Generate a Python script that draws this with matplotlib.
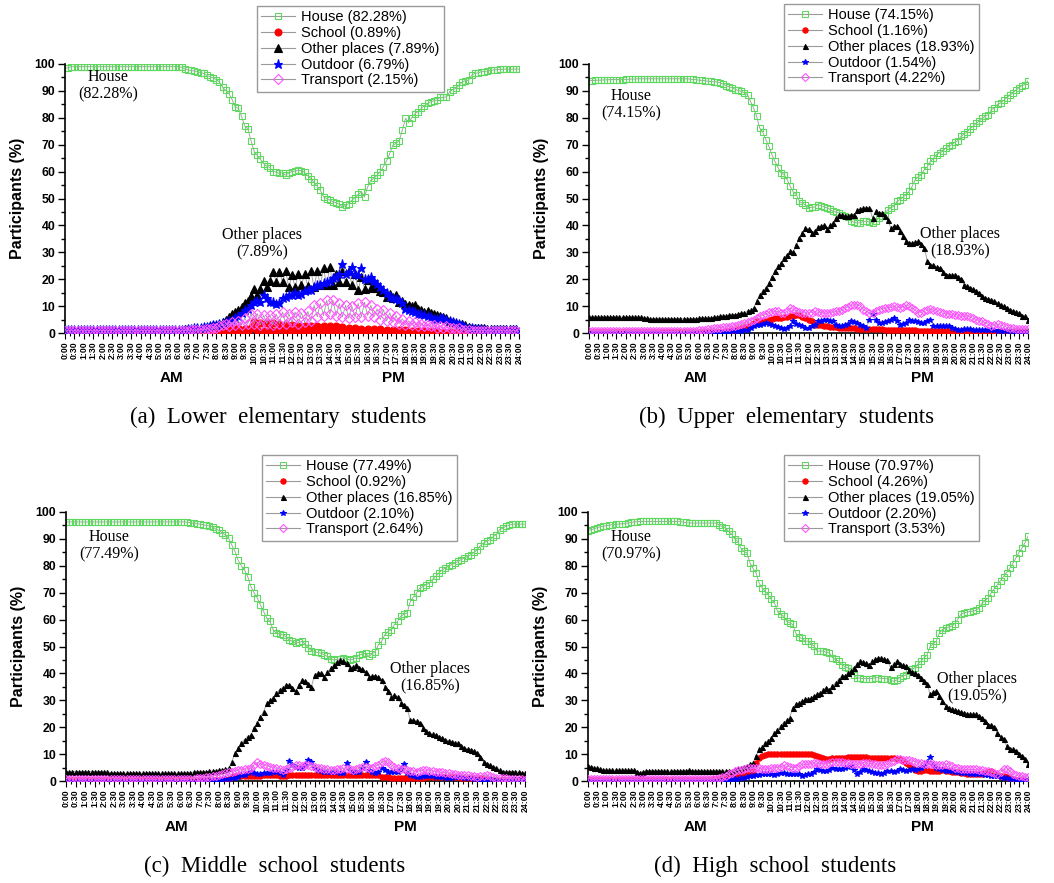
import numpy as np
import matplotlib
matplotlib.use("Agg")
import matplotlib.pyplot as plt
from matplotlib.lines import Line2D

W, H = 1054, 883
SANS = "Liberation Sans"
SERIF = "Liberation Serif"

# 10-minute samples from 0:00 to 24:00
hours = np.arange(145) / 6.0

tick_labels = [
    "0:00", "0:30", "1:00", "1:30", "2:00", "2:30", "3:00", "3:30", "4:00", "4:30",
    "5:00", "5:30", "6:00", "6:30", "7:00", "7:30", "8:00", "8:30", "9:00", "9:30",
    "10:00", "10:30", "11:00", "11:30", "12:00", "12:30", "13:00", "13:30", "14:00",
    "14:30", "15:00", "15:30", "16:00", "16:30", "17:00", "17:30", "18:00", "18:30",
    "19:00", "19:30", "20:00", "20:30", "21:00", "21:30", "22:00", "22:30", "23:00",
    "23:30", "24:00",
]

series_names = ["House", "School", "Other places", "Outdoor", "Transport"]

# (a) Lower elementary students
house_a = [
    98.4, 98.6, 99.0, 99.0, 99.0, 99.0, 99.0, 99.0, 99.0, 99.0, 99.0, 99.0,
    99.0, 99.0, 99.0, 99.0, 99.0, 99.0, 99.0, 99.0, 99.0, 99.0, 99.0, 99.0,
    99.0, 99.0, 99.0, 99.0, 99.0, 99.0, 99.0, 99.0, 99.0, 99.0, 99.0, 99.0,
    99.0, 98.8, 98.2, 97.8, 97.6, 97.4, 97.2, 96.8, 96.5, 95.8, 95.3, 94.8,
    94.2, 93.3, 91.3, 90.2, 89.0, 86.8, 84.0, 83.5, 80.5, 77.0, 76.0, 71.5,
    67.5, 66.0, 64.5, 63.0, 62.0, 61.5, 60.0, 59.8, 59.3, 59.5, 58.7, 59.5,
    60.0, 60.2, 60.5, 60.3, 59.7, 58.5, 57.4, 56.0, 54.5, 53.0, 50.6, 50.0,
    49.4, 48.8, 48.4, 47.9, 46.7, 47.5, 48.1, 49.4, 50.3, 51.5, 52.5, 50.6,
    54.3, 56.8, 57.5, 58.7, 60.0, 61.8, 64.0, 66.7, 69.8, 70.5, 71.5, 75.4,
    79.8, 78.2, 80.1, 81.5, 82.3, 83.5, 84.5, 85.4, 86.0, 86.3, 86.6, 87.6,
    87.6, 87.8, 89.7, 90.5, 90.9, 92.2, 93.4, 93.8, 94.0, 95.9, 96.5, 96.7,
    97.1, 97.2, 97.4, 97.6, 97.8, 97.9, 98.0, 98.1, 98.1, 98.1, 98.1, 98.1,
    98.1,
]
school_a = [
    0.2, 0.2, 0.2, 0.2, 0.2, 0.2, 0.2, 0.2, 0.2, 0.2, 0.2, 0.2,
    0.2, 0.2, 0.2, 0.2, 0.2, 0.2, 0.2, 0.2, 0.2, 0.2, 0.2, 0.2,
    0.2, 0.2, 0.2, 0.2, 0.2, 0.2, 0.2, 0.2, 0.2, 0.2, 0.2, 0.2,
    0.2, 0.2, 0.2, 0.2, 0.2, 0.2, 0.2, 0.2, 0.3, 0.3, 0.4, 0.4,
    0.5, 1.5, 0.5, 2.5, 0.3, 2.0, 0.3, 2.0, 0.2, 1.5, 0.2, 2.0,
    4.0, 1.0, 3.8, 0.8, 3.8, 1.0, 3.8, 0.8, 3.5, 1.0, 3.0, 0.8,
    2.8, 0.8, 2.5, 0.5, 2.5, 0.5, 2.5, 0.5, 2.6, 0.5, 2.6, 0.5,
    2.6, 0.5, 2.5, 0.5, 2.4, 0.5, 2.0, 0.5, 1.8, 0.4, 1.6, 0.4,
    1.6, 0.3, 1.5, 0.3, 1.4, 0.2, 1.2, 0.2, 1.0, 0.2, 1.0, 0.2,
    1.0, 0.1, 0.8, 0.1, 0.8, 0.1, 0.8, 0.1, 0.6, 0.1, 0.6, 0.1,
    0.5, 0.1, 0.3, 0.1, 0.2, 0.1, 0.1, 0.1, 0.1, 0.1, 0.1, 0.1,
    0.1, 0.1, 0.1, 0.1, 0.1, 0.1, 0.1, 0.1, 0.1, 0.1, 0.1, 0.1,
    0.1,
]
other_a = [
    1.2, 1.2, 1.2, 1.2, 1.2, 1.2, 1.2, 1.2, 1.2, 1.2, 1.2, 1.2,
    1.2, 1.2, 1.2, 1.2, 1.2, 1.2, 1.2, 1.2, 1.2, 1.2, 1.2, 1.2,
    1.2, 1.2, 1.2, 1.2, 1.2, 1.2, 1.2, 1.2, 1.2, 1.2, 1.2, 1.2,
    1.3, 1.3, 1.4, 1.5, 1.5, 1.6, 1.7, 1.8, 2.0, 2.3, 2.6, 2.8,
    3.0, 3.5, 4.0, 5.0, 6.0, 7.0, 7.8, 8.4, 9.5, 11.0, 12.0, 13.6,
    16.5, 14.0, 16.5, 19.4, 17.0, 19.4, 22.5, 19.0, 22.7, 19.0, 23.0, 17.0,
    21.5, 17.0, 22.0, 17.7, 22.0, 17.5, 23.0, 17.0, 23.0, 17.7, 24.0, 17.7,
    24.6, 17.7, 21.8, 19.0, 23.0, 19.0, 23.0, 18.0, 21.8, 15.9, 21.0, 16.5,
    19.6, 16.9, 17.5, 16.9, 15.5, 15.3, 13.4, 14.5, 13.0, 14.0, 11.5, 12.0,
    10.7, 10.5, 9.9, 10.3, 9.0, 8.4, 7.8, 8.0, 7.5, 7.2, 6.8, 6.5,
    6.0, 5.5, 4.5, 4.0, 3.8, 3.5, 3.2, 2.8, 2.4, 2.0, 1.9, 1.8,
    1.7, 1.7, 1.6, 1.6, 1.6, 1.6, 1.5, 1.5, 1.5, 1.5, 1.5, 1.5,
    0.5,
]
outdoor_a = [
    1.0, 1.0, 1.0, 1.0, 1.0, 1.0, 1.0, 1.0, 1.0, 1.0, 1.0, 1.0,
    1.0, 1.0, 1.0, 1.0, 1.0, 1.0, 1.0, 1.0, 1.0, 1.0, 1.0, 1.0,
    1.0, 1.0, 1.0, 1.0, 1.0, 1.0, 1.0, 1.0, 1.0, 1.0, 1.0, 1.0,
    1.0, 1.1, 1.2, 1.4, 1.5, 1.7, 1.9, 2.0, 2.2, 2.4, 2.6, 2.8,
    3.0, 3.3, 3.6, 4.0, 4.5, 5.0, 5.5, 6.5, 7.5, 8.5, 9.0, 10.5,
    11.5, 12.0, 11.5, 14.0, 13.0, 11.5, 11.5, 10.7, 11.0, 13.0, 13.4, 14.0,
    14.3, 15.0, 14.0, 14.6, 15.5, 16.0, 15.9, 17.0, 17.7, 18.0, 18.5, 19.0,
    19.5, 20.6, 21.0, 22.0, 25.8, 22.0, 22.5, 24.6, 22.0, 21.5, 24.2, 19.9,
    20.0, 21.0, 19.5, 18.4, 17.0, 15.9, 15.0, 13.4, 13.0, 12.5, 12.2, 11.0,
    9.0, 8.5, 8.0, 7.8, 7.2, 7.0, 6.6, 6.2, 5.8, 5.3, 5.3, 5.5,
    5.7, 5.0, 4.5, 4.1, 3.6, 3.2, 2.8, 2.4, 2.0, 1.8, 1.6, 1.5,
    1.4, 1.3, 1.3, 1.2, 1.2, 1.2, 1.1, 1.1, 1.1, 1.0, 1.0, 1.0,
    0.5,
]
transport_a = [
    0.8, 0.8, 0.8, 0.8, 0.8, 0.8, 0.8, 0.8, 0.8, 0.8, 0.8, 0.8,
    0.8, 0.8, 0.8, 0.8, 0.8, 0.8, 0.8, 0.8, 0.8, 0.8, 0.8, 0.8,
    0.8, 0.8, 0.8, 0.8, 0.8, 0.8, 0.8, 0.8, 0.8, 0.8, 0.8, 0.8,
    0.8, 0.8, 0.9, 0.9, 1.0, 1.0, 1.1, 1.2, 1.3, 1.4, 1.5, 1.7,
    2.0, 2.5, 3.0, 3.5, 2.5, 4.0, 3.0, 4.5, 3.0, 5.5, 3.5, 7.2,
    3.5, 7.2, 3.0, 6.6, 3.5, 6.8, 3.0, 7.0, 3.5, 7.8, 3.5, 7.2,
    4.0, 7.8, 3.5, 7.5, 4.0, 8.0, 4.5, 10.3, 6.0, 11.0, 6.5, 12.2,
    7.0, 12.2, 6.5, 11.0, 6.0, 10.3, 5.5, 9.9, 6.0, 11.0, 6.0, 11.5,
    6.5, 10.3, 6.0, 9.0, 5.0, 8.7, 4.5, 7.5, 4.0, 6.5, 3.5, 5.3,
    3.0, 4.5, 3.0, 4.0, 2.5, 3.5, 2.5, 3.0, 2.5, 3.0, 2.0, 2.5,
    2.0, 2.5, 1.8, 2.0, 1.5, 1.8, 1.2, 1.1, 1.0, 0.9, 0.9, 0.8,
    0.8, 0.8, 0.8, 0.8, 0.8, 0.8, 0.8, 0.8, 0.8, 0.8, 0.8, 0.8,
    0.5,
]

# (b) Upper elementary students
house_b = [
    93.8, 93.8, 93.9, 94.0, 94.0, 94.1, 94.1, 94.2, 94.2, 94.2, 94.2, 94.2,
    94.3, 94.3, 94.4, 94.4, 94.5, 94.5, 94.5, 94.5, 94.5, 94.5, 94.5, 94.5,
    94.5, 94.5, 94.5, 94.5, 94.5, 94.5, 94.5, 94.5, 94.5, 94.4, 94.3, 94.2,
    94.0, 93.9, 93.8, 93.6, 93.5, 93.4, 93.3, 93.0, 92.5, 92.0, 91.5, 91.2,
    90.5, 90.2, 89.8, 89.2, 88.6, 86.1, 83.6, 80.5, 76.2, 74.7, 71.9, 69.4,
    66.3, 63.8, 61.5, 59.5, 58.9, 57.0, 54.5, 52.5, 51.4, 48.9, 48.3, 47.5,
    46.5, 46.7, 46.8, 47.7, 47.3, 47.0, 46.5, 46.0, 45.2, 45.0, 44.6, 44.0,
    43.4, 43.0, 41.5, 41.2, 40.9, 41.0, 41.5, 41.5, 41.2, 40.9, 41.5, 42.8,
    43.5, 44.0, 45.8, 46.5, 47.1, 48.9, 49.6, 50.5, 51.4, 52.7, 54.5, 57.0,
    58.0, 58.9, 60.7, 62.0, 63.8, 65.0, 66.3, 67.0, 67.5, 68.8, 69.4, 70.0,
    71.0, 71.5, 73.1, 74.0, 74.7, 76.0, 76.8, 78.0, 78.7, 79.9, 80.5, 81.2,
    83.0, 83.6, 85.0, 85.5, 86.5, 87.4, 88.5, 89.2, 90.3, 91.1, 92.0, 92.3,
    93.8,
]
school_b = [
    0.3, 0.3, 0.3, 0.3, 0.3, 0.3, 0.3, 0.3, 0.3, 0.3, 0.3, 0.3,
    0.3, 0.3, 0.3, 0.3, 0.3, 0.3, 0.3, 0.3, 0.3, 0.3, 0.3, 0.3,
    0.3, 0.3, 0.3, 0.3, 0.3, 0.3, 0.3, 0.3, 0.3, 0.3, 0.3, 0.3,
    0.3, 0.3, 0.3, 0.3, 0.3, 0.3, 0.4, 0.4, 0.5, 0.6, 0.8, 1.0,
    1.2, 1.4, 1.8, 2.2, 2.7, 3.1, 3.6, 4.3, 4.3, 4.3, 4.5, 5.0,
    5.3, 5.4, 5.5, 5.6, 5.8, 6.0, 6.2, 6.4, 6.6, 6.6, 6.0, 5.6,
    5.0, 4.5, 3.1, 3.0, 2.8, 2.5, 2.5, 2.3, 2.2, 2.1, 2.0, 2.0,
    1.9, 1.8, 1.8, 1.7, 1.6, 1.6, 1.6, 1.6, 1.6, 1.6, 1.5, 1.4,
    1.4, 1.3, 1.3, 1.2, 1.2, 1.2, 1.1, 1.1, 1.0, 1.0, 1.0, 1.0,
    0.9, 0.9, 0.9, 0.9, 0.8, 0.8, 0.7, 0.7, 0.6, 0.6, 0.6, 0.6,
    0.6, 0.6, 0.6, 0.6, 0.5, 0.5, 0.5, 0.4, 0.4, 0.4, 0.4, 0.4,
    0.3, 0.3, 0.3, 0.3, 0.3, 0.3, 0.3, 0.3, 0.3, 0.3, 0.3, 0.3,
    0.3,
]
other_b = [
    5.9, 5.9, 5.9, 5.9, 5.9, 5.9, 5.9, 5.9, 5.9, 5.9, 5.9, 5.9,
    5.9, 5.9, 5.9, 5.9, 5.9, 5.9, 5.6, 5.5, 5.3, 5.3, 5.3, 5.3,
    5.3, 5.3, 5.3, 5.3, 5.3, 5.3, 5.3, 5.3, 5.3, 5.3, 5.3, 5.3,
    5.4, 5.5, 5.5, 5.6, 5.7, 5.8, 6.0, 6.2, 6.3, 6.5, 6.6, 6.8,
    6.8, 7.1, 7.4, 7.6, 8.0, 8.5, 9.3, 12.0, 14.3, 15.5, 16.7, 18.6,
    21.0, 23.0, 24.8, 26.0, 28.0, 29.1, 30.4, 30.0, 32.8, 35.3, 37.0, 39.0,
    38.8, 37.2, 38.0, 39.3, 39.7, 40.0, 38.8, 40.0, 40.9, 42.8, 44.0, 44.0,
    43.6, 43.4, 44.0, 44.0, 45.8, 46.0, 46.5, 46.5, 46.5, 42.8, 45.2, 44.6,
    44.6, 43.5, 42.1, 39.0, 39.7, 39.7, 37.8, 36.0, 34.1, 33.5, 33.5, 34.0,
    34.1, 33.0, 31.6, 26.6, 25.4, 25.4, 24.5, 24.2, 22.5, 21.7, 21.7, 21.7,
    21.7, 21.0, 20.2, 18.0, 17.5, 16.7, 16.2, 15.5, 15.0, 13.6, 13.0, 12.8,
    12.4, 12.0, 11.2, 10.5, 10.0, 9.3, 8.5, 8.3, 7.8, 7.4, 6.5, 6.2,
    5.0,
]
outdoor_b = [
    0.1, 0.1, 0.1, 0.1, 0.1, 0.1, 0.1, 0.1, 0.1, 0.1, 0.1, 0.1,
    0.1, 0.1, 0.1, 0.1, 0.1, 0.1, 0.1, 0.1, 0.1, 0.1, 0.1, 0.1,
    0.1, 0.1, 0.1, 0.1, 0.1, 0.1, 0.1, 0.1, 0.1, 0.1, 0.1, 0.1,
    0.1, 0.1, 0.1, 0.2, 0.2, 0.3, 0.3, 0.4, 0.4, 0.5, 0.5, 0.6,
    0.6, 0.8, 0.9, 1.0, 1.2, 1.8, 2.5, 3.1, 3.1, 3.4, 3.7, 3.5,
    3.1, 2.5, 2.1, 1.8, 1.6, 1.9, 2.5, 4.3, 3.5, 3.1, 2.5, 1.9,
    1.9, 2.5, 3.0, 4.3, 4.5, 4.8, 5.0, 4.6, 4.3, 3.0, 2.5, 2.7,
    2.9, 3.5, 4.3, 4.0, 3.7, 3.0, 2.5, 1.9, 5.0, 7.1, 5.0, 3.7,
    3.8, 4.0, 4.3, 4.8, 5.6, 4.5, 3.1, 3.5, 3.7, 5.0, 4.5, 4.3,
    4.0, 3.7, 3.9, 4.5, 5.0, 2.5, 2.5, 2.5, 2.5, 2.5, 2.5, 2.0,
    1.6, 1.2, 1.2, 1.4, 1.6, 1.5, 1.3, 1.2, 1.2, 1.2, 1.2, 1.2,
    1.1, 1.0, 0.9, 0.8, 0.7, 0.6, 0.6, 0.5, 0.4, 0.4, 0.3, 0.3,
    0.3,
]
transport_b = [
    0.9, 0.9, 0.9, 0.9, 0.9, 0.9, 0.9, 0.9, 0.9, 0.9, 0.9, 0.9,
    0.9, 0.9, 0.9, 0.9, 0.9, 0.9, 0.9, 0.9, 0.9, 0.9, 0.9, 0.9,
    0.7, 0.7, 0.7, 0.7, 0.7, 0.7, 0.8, 0.8, 0.9, 0.9, 0.9, 0.9,
    1.0, 1.1, 1.2, 1.4, 1.5, 1.7, 1.9, 2.0, 2.1, 2.3, 2.4, 2.5,
    2.6, 3.0, 3.4, 3.7, 4.2, 4.6, 5.0, 5.6, 6.2, 6.6, 7.0, 7.7,
    7.8, 8.0, 8.0, 7.6, 7.4, 8.0, 9.3, 8.8, 8.3, 7.8, 7.6, 7.4,
    7.4, 7.6, 8.0, 7.8, 7.6, 7.5, 7.4, 7.6, 7.8, 8.0, 8.0, 8.5,
    9.3, 9.8, 10.3, 10.5, 10.5, 10.0, 8.7, 8.0, 7.4, 7.4, 8.2, 8.7,
    9.0, 9.3, 9.3, 9.6, 9.9, 9.6, 9.3, 9.8, 10.3, 10.0, 9.3, 8.5,
    7.4, 7.6, 8.0, 8.5, 9.0, 8.5, 8.0, 7.7, 7.4, 7.2, 7.1, 7.0,
    6.8, 6.6, 6.2, 6.3, 6.4, 6.0, 5.5, 5.0, 4.6, 4.3, 3.8, 3.2,
    2.5, 2.8, 3.3, 3.0, 2.6, 2.1, 1.9, 1.8, 1.6, 1.6, 1.6, 1.6,
    1.6,
]

# (c) Middle school students
house_c = [
    96.3, 96.3, 96.3, 96.3, 96.3, 96.3, 96.3, 96.3, 96.3, 96.3, 96.3, 96.3,
    96.3, 96.3, 96.3, 96.3, 96.3, 96.3, 96.3, 96.3, 96.3, 96.3, 96.3, 96.3,
    96.3, 96.3, 96.3, 96.3, 96.3, 96.3, 96.3, 96.3, 96.3, 96.3, 96.3, 96.3,
    96.3, 96.3, 96.2, 96.0, 95.8, 95.6, 95.5, 95.3, 95.0, 94.8, 94.5, 93.6,
    93.2, 92.2, 91.5, 90.3, 87.8, 85.4, 82.0, 80.0, 78.5, 76.0, 72.3, 70.0,
    68.0, 65.5, 63.0, 60.5, 59.3, 56.2, 55.0, 54.6, 54.3, 53.7, 52.5, 51.9,
    51.2, 51.5, 51.9, 51.0, 49.4, 48.5, 48.1, 47.8, 47.5, 46.9, 46.3, 45.5,
    45.0, 45.2, 45.4, 45.7, 45.5, 45.0, 45.3, 45.7, 46.9, 47.2, 47.5, 46.3,
    47.2, 48.1, 50.6, 51.9, 54.3, 55.5, 56.2, 58.1, 59.3, 61.2, 62.0, 62.4,
    66.7, 68.5, 69.9, 71.7, 72.3, 73.0, 73.6, 75.0, 76.1, 77.3, 78.5, 79.2,
    79.8, 80.4, 81.0, 81.6, 82.3, 82.9, 83.5, 84.1, 85.0, 86.0, 87.5, 88.5,
    89.1, 89.7, 90.8, 91.6, 93.4, 94.0, 94.7, 95.0, 95.5, 95.5, 95.5, 95.5,
    95.5,
]
school_c = [
    0.4, 0.4, 0.4, 0.4, 0.4, 0.4, 0.4, 0.4, 0.4, 0.4, 0.4, 0.4,
    0.4, 0.4, 0.4, 0.4, 0.4, 0.4, 0.4, 0.4, 0.4, 0.4, 0.4, 0.4,
    0.4, 0.4, 0.4, 0.4, 0.4, 0.4, 0.4, 0.4, 0.4, 0.4, 0.4, 0.4,
    0.4, 0.4, 0.4, 0.4, 0.4, 0.4, 0.4, 0.4, 0.4, 0.4, 0.4, 0.4,
    0.4, 0.5, 0.6, 0.7, 1.6, 1.8, 2.0, 2.0, 2.0, 2.0, 2.0, 2.0,
    2.0, 2.0, 2.1, 2.2, 2.2, 2.2, 2.1, 2.0, 2.0, 2.0, 2.1, 2.2,
    2.2, 2.2, 2.2, 2.2, 2.2, 2.2, 2.2, 2.2, 2.2, 2.2, 2.2, 2.2,
    2.2, 2.2, 2.2, 2.2, 2.2, 2.2, 2.2, 2.2, 2.2, 2.2, 2.2, 2.2,
    2.2, 2.2, 2.2, 1.6, 1.6, 1.6, 1.2, 1.2, 1.2, 1.2, 1.2, 1.2,
    1.2, 1.2, 1.2, 1.2, 1.2, 1.4, 1.6, 1.6, 1.6, 1.6, 1.6, 1.6,
    1.6, 1.6, 1.6, 1.4, 1.2, 1.0, 1.0, 1.0, 1.0, 1.0, 1.0, 0.9,
    0.7, 0.5, 0.4, 0.4, 0.3, 0.3, 0.3, 0.2, 0.2, 0.2, 0.2, 0.2,
    0.2,
]
other_c = [
    3.5, 3.5, 3.5, 3.5, 3.5, 3.5, 3.5, 3.5, 3.5, 3.5, 3.5, 3.5,
    3.4, 3.2, 3.0, 2.9, 2.9, 2.9, 2.9, 2.9, 2.9, 2.9, 2.9, 2.9,
    2.9, 2.9, 2.9, 2.9, 2.9, 2.9, 2.9, 2.9, 2.9, 2.9, 2.9, 2.9,
    2.9, 2.9, 2.9, 3.1, 3.3, 3.5, 3.5, 3.5, 3.5, 3.6, 3.7, 3.8,
    4.0, 4.1, 4.3, 4.7, 7.2, 10.3, 12.2, 14.0, 15.3, 16.5, 17.1, 19.6,
    21.5, 23.9, 25.8, 28.9, 30.0, 30.8, 32.6, 34.0, 34.7, 35.7, 35.7, 34.7,
    33.3, 35.7, 37.6, 37.0, 36.0, 35.1, 39.5, 40.1, 40.1, 38.8, 40.5, 41.9,
    43.0, 44.4, 45.0, 44.5, 43.8, 41.9, 42.5, 43.2, 41.9, 41.5, 40.7, 38.8,
    39.0, 39.2, 38.5, 37.6, 35.1, 33.5, 31.4, 32.0, 31.4, 29.0, 28.3, 27.0,
    22.7, 22.5, 22.3, 21.5, 19.6, 18.5, 17.7, 17.4, 17.0, 16.5, 16.0, 15.3,
    15.0, 14.6, 14.3, 14.0, 13.0, 12.2, 12.0, 11.5, 11.0, 10.3, 9.1, 7.2,
    6.5, 6.0, 5.3, 4.7, 4.0, 3.5, 3.5, 3.5, 3.5, 3.5, 3.2, 2.9,
    2.9,
]
outdoor_c = [
    0.1, 0.1, 0.1, 0.1, 0.1, 0.1, 0.1, 0.1, 0.1, 0.1, 0.1, 0.1,
    0.1, 0.1, 0.1, 0.1, 0.1, 0.1, 0.1, 0.1, 0.1, 0.1, 0.1, 0.1,
    0.1, 0.1, 0.1, 0.1, 0.1, 0.1, 0.1, 0.1, 0.1, 0.1, 0.1, 0.1,
    0.1, 0.1, 0.1, 0.1, 0.1, 0.1, 0.1, 0.1, 0.2, 0.2, 0.3, 0.4,
    0.4, 0.5, 0.6, 0.8, 1.0, 1.3, 1.6, 2.2, 2.2, 2.8, 3.5, 3.0,
    2.5, 2.7, 2.9, 2.9, 2.9, 3.2, 3.5, 3.0, 2.2, 4.1, 7.4, 6.0,
    5.3, 5.0, 4.7, 6.0, 7.8, 7.2, 4.7, 4.2, 3.7, 3.2, 3.2, 3.5,
    3.5, 3.2, 2.9, 2.9, 6.6, 4.0, 3.5, 3.5, 3.5, 5.0, 7.2, 4.0,
    3.5, 2.9, 3.5, 4.7, 4.0, 3.5, 3.5, 3.5, 3.5, 4.5, 6.2, 3.0,
    2.2, 2.0, 1.6, 1.6, 1.8, 2.0, 2.0, 1.8, 1.6, 1.6, 1.5, 1.3,
    1.2, 1.2, 1.4, 1.6, 1.5, 1.3, 1.0, 1.0, 0.8, 0.6, 0.5, 0.4,
    0.5, 0.7, 0.5, 0.3, 0.2, 0.2, 0.2, 0.2, 0.2, 0.2, 0.2, 0.2,
    0.2,
]
transport_c = [
    0.8, 0.8, 0.8, 0.8, 0.8, 0.8, 0.8, 0.8, 0.8, 0.8, 0.8, 0.8,
    0.8, 0.8, 0.8, 0.8, 0.8, 0.8, 0.8, 0.8, 0.8, 0.8, 0.8, 0.8,
    0.7, 0.7, 0.7, 0.7, 0.7, 0.7, 0.7, 0.7, 0.7, 0.7, 0.7, 0.7,
    0.7, 0.7, 0.7, 0.8, 0.9, 1.0, 1.1, 1.3, 1.5, 1.6, 1.8, 2.0,
    2.2, 2.5, 2.8, 3.2, 3.5, 3.8, 4.1, 4.1, 4.3, 4.5, 4.7, 6.0,
    6.9, 6.5, 6.0, 5.7, 5.3, 5.0, 4.7, 4.5, 4.1, 4.3, 4.7, 5.3,
    6.0, 5.8, 5.7, 5.8, 6.0, 5.6, 5.3, 5.0, 4.7, 4.5, 4.3, 4.1,
    4.1, 4.3, 4.5, 4.7, 4.5, 4.3, 4.1, 4.3, 4.8, 5.3, 5.2, 5.0,
    5.0, 5.5, 6.0, 6.9, 7.4, 7.0, 6.0, 5.3, 4.7, 4.5, 4.3, 4.1,
    3.9, 3.7, 3.5, 3.8, 4.1, 4.0, 3.8, 3.7, 3.5, 3.3, 3.2, 3.1,
    2.9, 2.7, 2.5, 2.2, 2.2, 2.2, 2.2, 2.0, 1.8, 1.6, 1.8, 2.0,
    2.2, 1.8, 1.5, 1.2, 1.1, 1.0, 1.0, 0.9, 0.8, 0.7, 0.7, 0.6,
    0.5,
]

# (d) High school students
house_d = [
    93.1, 93.4, 93.8, 94.2, 94.5, 94.7, 94.9, 95.1, 95.3, 95.4, 95.5, 95.6,
    95.7, 95.9, 96.1, 96.3, 96.4, 96.5, 96.5, 96.5, 96.5, 96.5, 96.5, 96.5,
    96.5, 96.5, 96.5, 96.5, 96.5, 96.5, 96.4, 96.3, 96.1, 95.9, 95.9, 95.9,
    95.9, 95.9, 95.9, 95.9, 95.9, 95.9, 95.9, 95.0, 94.6, 94.1, 92.8, 91.8,
    90.0, 89.1, 86.6, 85.4, 84.8, 81.1, 79.0, 77.4, 73.6, 71.8, 70.5, 69.3,
    67.5, 66.2, 63.1, 62.0, 61.3, 59.4, 58.8, 58.2, 55.0, 53.5, 53.0, 52.0,
    52.0, 51.0, 50.1, 48.3, 48.3, 48.3, 47.8, 47.6, 45.8, 45.2, 44.6, 43.3,
    42.5, 42.1, 40.8, 39.5, 38.4, 38.2, 38.1, 38.1, 38.1, 38.1, 38.4, 38.4,
    38.1, 38.1, 38.0, 37.4, 37.1, 37.5, 38.4, 39.0, 39.4, 40.8, 41.5, 42.1,
    43.5, 44.6, 45.8, 47.0, 50.1, 51.0, 52.0, 55.0, 56.3, 56.8, 57.2, 57.5,
    58.5, 60.0, 61.9, 62.5, 62.8, 63.0, 63.1, 63.5, 64.4, 66.2, 67.0, 68.1,
    70.0, 71.5, 73.0, 74.5, 76.0, 77.5, 79.0, 80.8, 82.8, 84.8, 86.6, 88.5,
    91.0,
]
school_d = [
    0.5, 0.5, 0.5, 0.5, 0.5, 0.5, 0.5, 0.5, 0.5, 0.5, 0.5, 0.5,
    0.5, 0.5, 0.5, 0.5, 0.5, 0.5, 0.5, 0.5, 0.5, 0.5, 0.5, 0.5,
    0.5, 0.5, 0.5, 0.5, 0.5, 0.5, 0.5, 0.5, 0.5, 0.5, 0.5, 0.5,
    0.5, 0.5, 0.5, 0.5, 0.5, 0.6, 0.7, 0.9, 1.2, 1.4, 1.7, 1.9,
    2.1, 2.4, 2.5, 2.6, 2.7, 3.2, 3.7, 6.8, 8.7, 9.2, 9.7, 9.9,
    10.1, 10.1, 10.2, 10.1, 10.0, 9.9, 9.9, 9.9, 9.9, 9.9, 9.9, 9.9,
    9.9, 9.9, 9.6, 9.2, 8.9, 8.5, 8.0, 8.2, 8.4, 8.6, 8.7, 8.7,
    8.7, 8.8, 8.8, 8.8, 8.8, 8.8, 8.8, 8.8, 8.7, 8.7, 8.7, 8.7,
    8.7, 8.7, 8.7, 8.6, 8.4, 8.2, 8.0, 7.5, 6.8, 5.8, 5.0, 4.2,
    3.7, 3.8, 4.0, 4.2, 3.8, 3.6, 3.7, 3.9, 4.1, 3.8, 3.6, 3.4,
    3.3, 3.2, 3.0, 2.8, 2.7, 2.6, 2.5, 2.5, 2.5, 2.5, 3.0, 3.5,
    3.7, 3.0, 2.2, 2.0, 1.9, 1.5, 1.0, 0.7, 0.4, 0.2, 0.2, 0.1,
    0.1,
]
other_d = [
    5.6, 5.3, 5.0, 4.7, 4.3, 4.1, 4.0, 4.0, 4.0, 4.0, 4.0, 4.0,
    4.0, 4.0, 4.0, 4.0, 3.5, 3.1, 3.5, 3.7, 3.7, 3.7, 3.7, 3.7,
    3.7, 3.7, 3.7, 3.7, 3.7, 3.7, 3.7, 3.7, 3.9, 4.1, 3.9, 3.7,
    3.7, 3.7, 3.7, 3.7, 3.7, 3.7, 3.7, 3.7, 3.7, 3.7, 3.7, 3.7,
    4.0, 4.5, 5.0, 5.3, 5.6, 6.2, 6.8, 9.3, 11.8, 12.5, 14.2, 15.0,
    16.1, 17.9, 19.0, 20.4, 21.7, 22.5, 23.5, 27.2, 28.5, 29.0, 29.7, 30.3,
    30.3, 30.8, 31.6, 32.2, 32.8, 33.8, 34.7, 34.0, 35.3, 36.5, 37.7, 39.0,
    39.0, 40.2, 41.0, 42.1, 43.5, 44.6, 44.2, 43.9, 43.3, 44.5, 45.2, 45.8,
    45.8, 45.2, 44.8, 42.3, 43.5, 44.6, 43.6, 43.0, 42.7, 41.1, 40.5, 40.2,
    39.5, 38.4, 37.0, 35.9, 32.2, 33.0, 33.4, 31.5, 29.7, 27.8, 27.0, 26.6,
    26.3, 26.0, 25.7, 25.4, 25.0, 24.8, 24.8, 24.8, 24.2, 23.5, 22.3, 21.0,
    21.0, 20.0, 17.9, 16.5, 15.5, 13.0, 12.0, 11.8, 11.1, 10.0, 9.3, 8.0,
    6.5,
]
outdoor_d = [
    0.1, 0.1, 0.1, 0.1, 0.1, 0.1, 0.1, 0.1, 0.1, 0.1, 0.1, 0.1,
    0.1, 0.1, 0.1, 0.1, 0.1, 0.1, 0.1, 0.1, 0.1, 0.1, 0.1, 0.1,
    0.1, 0.1, 0.1, 0.1, 0.1, 0.1, 0.1, 0.1, 0.1, 0.1, 0.1, 0.1,
    0.1, 0.1, 0.1, 0.1, 0.1, 0.1, 0.1, 0.1, 0.2, 0.3, 0.4, 0.6,
    0.7, 0.8, 1.0, 1.2, 1.5, 1.8, 2.0, 2.2, 2.4, 2.5, 2.6, 2.7,
    2.5, 2.2, 2.6, 3.1, 2.8, 2.5, 2.5, 2.6, 2.7, 2.5, 1.9, 2.2,
    2.5, 2.7, 3.5, 4.3, 4.0, 3.7, 3.7, 4.2, 5.0, 4.6, 4.3, 4.6,
    5.0, 5.2, 5.6, 4.0, 2.5, 3.5, 4.3, 4.0, 3.7, 3.4, 3.1, 2.9,
    2.7, 3.0, 3.7, 3.6, 3.5, 3.9, 4.3, 4.0, 3.7, 4.0, 4.3, 4.0,
    4.3, 5.0, 5.6, 7.0, 8.9, 6.0, 5.0, 4.5, 4.2, 3.7, 3.7, 3.7,
    3.5, 3.3, 3.1, 3.0, 2.8, 2.5, 2.5, 2.6, 2.7, 2.5, 2.3, 2.1,
    1.9, 1.8, 1.7, 1.5, 1.3, 1.0, 0.8, 0.6, 0.4, 0.3, 0.2, 0.2,
    0.2,
]
transport_d = [
    0.8, 0.8, 0.8, 0.8, 0.8, 0.8, 0.8, 0.8, 0.8, 0.8, 0.8, 0.8,
    0.8, 0.8, 0.8, 0.8, 0.8, 0.8, 0.8, 0.8, 0.8, 0.8, 0.8, 0.8,
    0.8, 0.8, 0.8, 0.8, 0.8, 0.8, 0.8, 0.8, 0.8, 0.8, 0.8, 0.8,
    0.8, 0.8, 0.8, 0.8, 0.8, 0.9, 0.9, 1.2, 1.5, 1.9, 2.5, 3.1,
    3.7, 4.0, 4.2, 4.5, 4.7, 4.8, 5.0, 5.0, 4.8, 4.5, 4.3, 4.5,
    4.8, 5.0, 5.0, 5.3, 5.8, 5.5, 5.3, 5.0, 5.0, 5.5, 6.2, 6.2,
    6.3, 6.5, 6.8, 6.6, 6.4, 6.5, 6.4, 6.6, 7.0, 7.2, 7.0, 6.9,
    6.8, 6.6, 6.4, 6.2, 6.2, 6.4, 6.8, 6.8, 6.6, 6.4, 6.2, 6.0,
    5.9, 5.9, 6.2, 7.2, 7.6, 8.0, 8.0, 7.9, 7.7, 7.7, 7.5, 7.2,
    6.8, 6.6, 6.5, 6.4, 6.4, 6.2, 6.0, 5.9, 6.1, 6.4, 6.0, 5.5,
    5.0, 4.8, 4.5, 4.3, 4.3, 4.3, 4.3, 4.3, 4.2, 4.0, 3.8, 3.7,
    3.4, 3.0, 2.5, 3.3, 4.3, 4.5, 3.8, 2.5, 2.2, 1.9, 1.7, 1.6,
    1.5,
]

share_a = ["82.28", "0.89", "7.89", "6.79", "2.15"]
share_b = ["74.15", "1.16", "18.93", "1.54", "4.22"]
share_c = ["77.49", "0.92", "16.85", "2.10", "2.64"]
share_d = ["70.97", "4.26", "19.05", "2.20", "3.53"]

captions = [
    "(a)  Lower  elementary  students",
    "(b)  Upper  elementary  students",
    "(c)  Middle  school  students",
    "(d)  High  school  students",
]

# marker style per location
markers = ["s", "o", "^", "*", "D"]
face = ["none", "#ff0000", "#000000", "#0000ff", "none"]
edge = ["#5ed85e", "#ff0000", "#000000", "#0000ff", "#ff55ff"]
size_big = [5.0, 5.0, 5.2, 6.8, 4.8]
size_small = [4.3, 3.8, 3.6, 4.2, 3.8]


def px(x):
    return x / W


def py(y):
    return 1 - y / H


# pixel layout of each panel: axes box, legend corner, captions, labels
layout = [
    dict(box=(65, 519, 64, 333), leg=(257, 6), cap=(278, 417), ampm=(171, 393, 378),
         house=(108, 86), other=(262, 244)),
    dict(box=(589, 1028, 64, 333), leg=(784, 4), cap=(787, 417), ampm=(695, 922, 378),
         house=(631, 105), other=(960, 243)),
    dict(box=(66, 525, 512, 781), leg=(262, 455), cap=(275, 866), ampm=(176, 405, 827),
         house=(109, 546), other=(430, 678)),
    dict(box=(588, 1028, 512, 781), leg=(784, 455), cap=(775, 866), ampm=(695, 922, 827),
         house=(631, 546), other=(977, 688)),
]

panel_data = [
    ([house_a, school_a, other_a, outdoor_a, transport_a], share_a, size_big),
    ([house_b, school_b, other_b, outdoor_b, transport_b], share_b, size_small),
    ([house_c, school_c, other_c, outdoor_c, transport_c], share_c, size_small),
    ([house_d, school_d, other_d, outdoor_d, transport_d], share_d, size_small),
]

fig = plt.figure(figsize=(W / 100, H / 100), dpi=100)

for k, (series, shares, sizes) in enumerate(panel_data):
    lay = layout[k]
    x0, x1, ytop, ybot = lay["box"]
    ax = fig.add_axes([px(x0), py(ybot), (x1 - x0) / W, (ybot - ytop) / H])

    handles = []
    for i, vals in enumerate(series):
        assert len(vals) == len(hours)
        ax.plot(hours, vals, color="#9a9a9a", lw=0.6, marker=markers[i],
                ms=sizes[i], mfc=face[i], mec=edge[i], mew=0.8, zorder=2 + i)
        handles.append(Line2D([], [], color="#9a9a9a", lw=0.8, marker=markers[i],
                              ms=sizes[i], mfc=face[i], mec=edge[i], mew=0.8))

    labels = ["%s (%s%%)" % (n, s) for n, s in zip(series_names, shares)]
    ax.legend(handles, labels, loc="upper left",
              bbox_to_anchor=(px(lay["leg"][0]), py(lay["leg"][1])),
              bbox_transform=fig.transFigure, borderaxespad=0,
              prop={"family": SANS, "size": 10.5}, frameon=True, fancybox=False,
              edgecolor="#9a9a9a", framealpha=1, handlelength=2.3,
              handletextpad=0.4, labelspacing=0.12, borderpad=0.3)

    ax.set_xlim(0, 24)
    ax.set_ylim(0, 100)
    for side in ("top", "right"):
        ax.spines[side].set_visible(False)
    for side in ("left", "bottom"):
        ax.spines[side].set_linewidth(1.2)

    ax.set_xticks(np.arange(0, 24.01, 0.5))
    ax.set_xticks(np.arange(0.25, 24, 0.5), minor=True)
    ax.set_xticklabels(tick_labels, rotation=90, fontsize=6.3,
                       fontweight="bold", family=SANS)
    ax.set_yticks(np.arange(0, 101, 10))
    ax.set_yticks(np.arange(5, 100, 10), minor=True)
    ax.set_yticklabels([str(v) for v in range(0, 101, 10)], fontsize=8.8,
                       fontweight="bold", family=SANS)
    ax.tick_params(axis="x", which="major", direction="out", length=4, width=0.8, pad=2)
    ax.tick_params(axis="x", which="minor", direction="out", length=2, width=0.8)
    ax.tick_params(axis="y", which="major", direction="out", length=5, width=1.0, pad=2)
    ax.tick_params(axis="y", which="minor", direction="out", length=3, width=1.0)

    ax.set_ylabel("Participants (%)", fontsize=11.5, fontweight="bold", family=SANS)
    ax.yaxis.set_label_coords(-40 / (x1 - x0), 0.5)

    am_x, pm_x, ampm_y = lay["ampm"]
    fig.text(px(am_x), py(ampm_y), "AM", ha="center", va="center",
             fontsize=11, fontweight="bold", family=SANS)
    fig.text(px(pm_x), py(ampm_y), "PM", ha="center", va="center",
             fontsize=11, fontweight="bold", family=SANS)

    fig.text(px(lay["cap"][0]), py(lay["cap"][1]), captions[k], ha="center",
             va="center", fontsize=16.5, family=SERIF)
    fig.text(px(lay["house"][0]), py(lay["house"][1]),
             "House\n(%s%%)" % shares[0], ha="center", va="center",
             fontsize=11.5, family=SERIF, linespacing=1.1)
    fig.text(px(lay["other"][0]), py(lay["other"][1]),
             "Other places\n(%s%%)" % shares[2], ha="center", va="center",
             fontsize=11.5, family=SERIF, linespacing=1.1)

fig.savefig("out.png", dpi=100)
